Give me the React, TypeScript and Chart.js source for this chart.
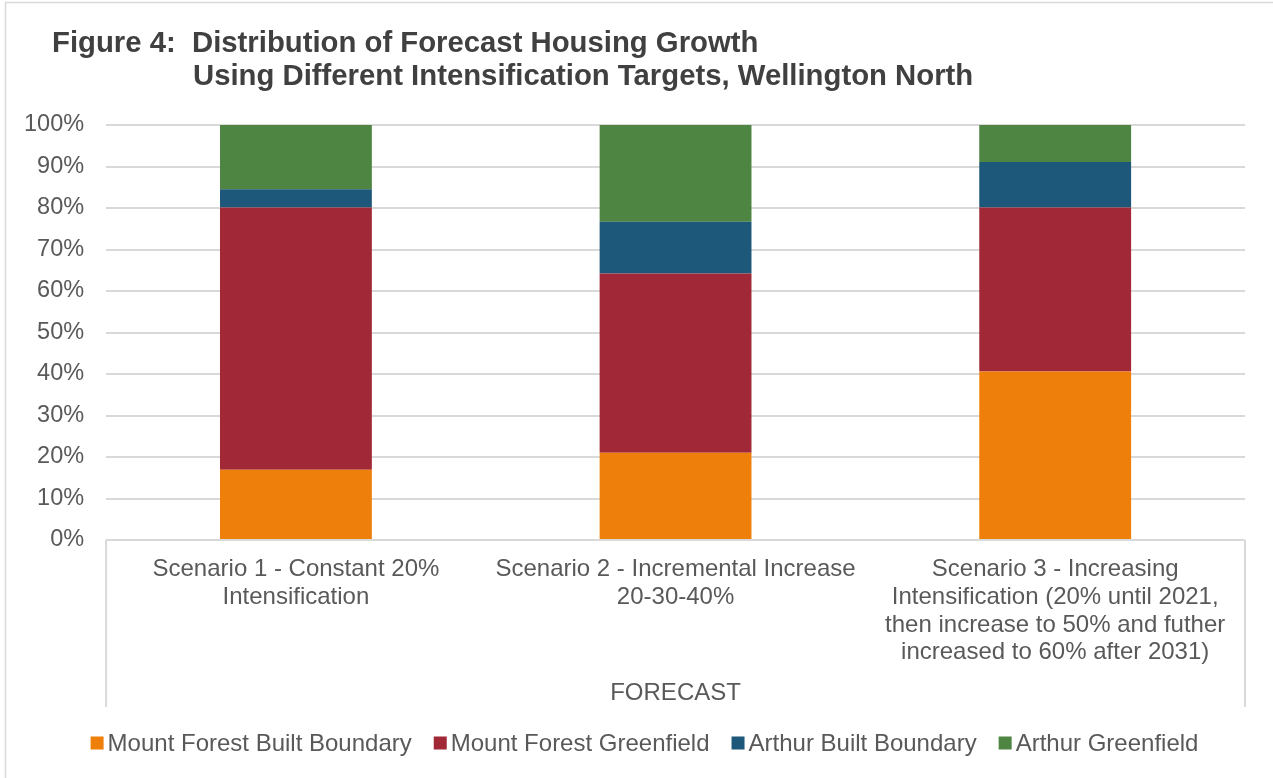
import React, { useEffect, useRef } from "react";
import { Chart, registerables } from "chart.js";

Chart.register(...registerables);

const categories: string[][] = [
  ["Scenario 1 - Constant 20%", "Intensification"],
  ["Scenario 2 - Incremental Increase", "20-30-40%"],
  [
    "Scenario 3 - Increasing",
    "Intensification (20% until 2021,",
    "then increase to 50% and futher",
    "increased to 60% after 2031)",
  ],
];

const mountForestBuilt = [16.9, 21.0, 40.6];
const mountForestGreenfield = [63.2, 43.2, 39.5];
const arthurBuilt = [4.4, 12.5, 11.0];
const arthurGreenfield = [15.5, 23.3, 8.9];

const seriesLabels = [
  "Mount Forest Built Boundary",
  "Mount Forest Greenfield",
  "Arthur Built Boundary",
  "Arthur Greenfield",
];
const seriesColors = ["#EF7F0B", "#A12837", "#1D5779", "#4E8542"];

const titleLines = [
  "Figure 4:  Distribution of Forecast Housing Growth",
  "Using Different Intensification Targets, Wellington North",
];
const axisTitle = "FORECAST";

const FONT = "'Liberation Sans', Arial, sans-serif";
const GRID = "#d9d9d9";
const TEXT = "#595959";

const decorPlugin = {
  id: "decor",
  beforeDraw(chart: any) {
    const ctx = chart.ctx;
    ctx.save();
    ctx.fillStyle = "#ffffff";
    ctx.fillRect(0, 0, chart.width, chart.height);
    ctx.strokeStyle = GRID;
    ctx.lineWidth = 1.5;
    ctx.strokeRect(5.5, 2.5, chart.width + 20, chart.height + 20);
    ctx.restore();
  },
  afterDraw(chart: any) {
    const ctx = chart.ctx;
    const area = chart.chartArea;
    const xs = chart.scales.x;
    ctx.save();
    // title
    ctx.fillStyle = "#404040";
    ctx.font = `bold 29.3px ${FONT}`;
    ctx.textBaseline = "middle";
    ctx.textAlign = "left";
    ctx.fillText(titleLines[0], 52, 44);
    ctx.fillText(titleLines[1], 193, 77);
    // group divider lines
    ctx.strokeStyle = GRID;
    ctx.lineWidth = 2;
    ctx.beginPath();
    ctx.moveTo(area.left, area.bottom);
    ctx.lineTo(area.left, xs.bottom);
    ctx.moveTo(area.right, area.bottom);
    ctx.lineTo(area.right, xs.bottom);
    ctx.stroke();
    // legend
    ctx.font = `24px ${FONT}`;
    const box = 13;
    const gapText = 4;
    const gapItem = 22;
    const widths = chart.data.datasets.map((d: any) => ctx.measureText(d.label).width);
    const total =
      widths.reduce((a: number, b: number) => a + b, 0) +
      widths.length * (box + gapText) +
      (widths.length - 1) * gapItem;
    let x = chart.width / 2 + 8 - total / 2;
    const y = 743;
    chart.data.datasets.forEach((d: any, i: number) => {
      ctx.fillStyle = d.backgroundColor;
      ctx.fillRect(x, y - box / 2, box, box);
      ctx.fillStyle = TEXT;
      ctx.fillText(d.label, x + box + gapText, y + 1);
      x += box + gapText + widths[i] + gapItem;
    });
    ctx.restore();
  },
};

export default function App() {
  const ref = useRef<HTMLCanvasElement>(null);
  useEffect(() => {
    document.body.style.margin = "0";
    const seriesData = [mountForestBuilt, mountForestGreenfield, arthurBuilt, arthurGreenfield];
    const chart = new Chart(ref.current!, {
      type: "bar",
      data: {
        labels: categories,
        datasets: seriesLabels.map((label, i) => ({
          label,
          data: seriesData[i],
          backgroundColor: seriesColors[i],
          borderWidth: 0,
          categoryPercentage: 1,
          barPercentage: 0.4,
        })),
      },
      options: {
        animation: false,
        responsive: false,
        maintainAspectRatio: false,
        layout: { padding: { top: 125, left: 2, right: 28, bottom: 71 } },
        plugins: {
          legend: { display: false },
          title: { display: false },
          tooltip: { enabled: false },
        },
        scales: {
          x: {
            stacked: true,
            grid: { display: false, drawTicks: false },
            border: { display: false },
            ticks: {
              color: TEXT,
              font: { family: FONT, size: 24, lineHeight: 1.15 },
              padding: 16,
              maxRotation: 0,
              autoSkip: false,
            },
            title: {
              display: true,
              text: axisTitle,
              color: TEXT,
              font: { family: FONT, size: 24, lineHeight: 1.15 },
              padding: { top: -3, bottom: 0 },
            },
          },
          y: {
            stacked: true,
            min: 0,
            max: 100,
            grid: { color: GRID, lineWidth: 2, drawTicks: false },
            border: { display: false },
            ticks: {
              stepSize: 10,
              color: TEXT,
              font: { family: FONT, size: 23.5 },
              padding: 22,
              callback: (v: any) => `${v}%`,
            },
          },
        },
      },
      plugins: [decorPlugin],
    });
    return () => chart.destroy();
  }, []);
  return (
    <div style={{ position: "fixed", left: 0, top: 0, width: 1273, height: 778 }}>
      <canvas ref={ref} width={1273} height={778} style={{ display: "block" }} />
    </div>
  );
}
